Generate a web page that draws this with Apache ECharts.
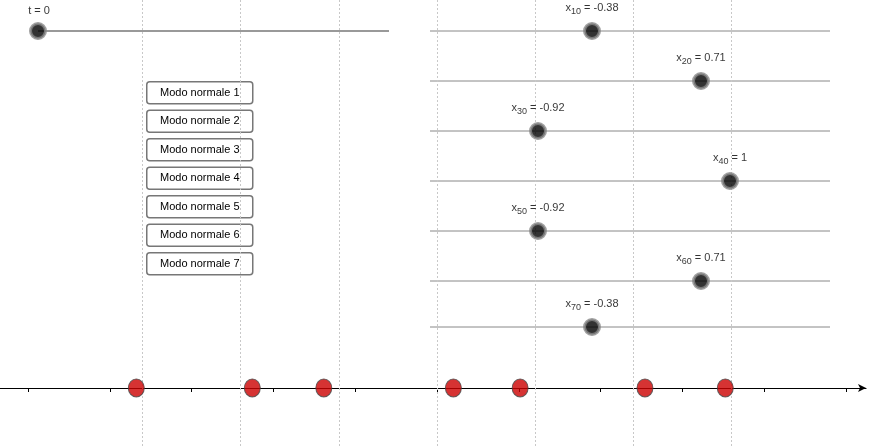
<!DOCTYPE html>
<html><head><meta charset="utf-8">
<script src="https://cdn.jsdelivr.net/npm/echarts@6/dist/echarts.min.js"></script>
<style>html,body{margin:0;padding:0;background:#fff}#c{width:871px;height:446px}</style>
</head><body><div id="c"></div>
<script>
// Data
const restPositions = [1.4, 2.6, 3.8, 5.0, 6.2, 7.4, 8.6];
const massPositions = [1.324, 2.742, 3.616, 5.2, 6.016, 7.542, 8.524];
const sliderNames = ['10','20','30','40','50','60','70'];
const sliderValues = [-0.38, 0.71, -0.92, 1, -0.92, 0.71, -0.38];
const sliderRows = [357, 307, 257, 207, 157, 107, 61];
const tickValues = [0,1,2,3,4,5,6,7,8,9,10];
const tRow = 357, tValue = 0;
const buttons = ['Modo normale 1','Modo normale 2','Modo normale 3','Modo normale 4','Modo normale 5','Modo normale 6','Modo normale 7'];

const yAx = (i)=>({gridIndex:i,type:'value',min:-58,max:388,show:false});
const series = [];
// dotted rest lines
series.push({type:'line',xAxisIndex:0,yAxisIndex:0,data:[],silent:true,
  markLine:{symbol:'none',silent:true,label:{show:false},lineStyle:{color:'#c8c8c8',type:[2,2],width:1},
    data:restPositions.map(v=>({xAxis:v}))}});
series.push({type:'scatter',xAxisIndex:0,yAxisIndex:0,data:massPositions.map(v=>[v,0]),
  symbolSize:[16,18],itemStyle:{color:'#cc0000',borderColor:'#444',borderWidth:1},z:5});
sliderRows.forEach((r,i)=>{
  series.push({type:'line',xAxisIndex:1,yAxisIndex:1,data:[[-2,r],[2,r]],symbol:'none',
    lineStyle:{color:'#888',width:1},silent:true});
  series.push({type:'scatter',xAxisIndex:1,yAxisIndex:1,data:[[sliderValues[i],r]],symbolSize:15,
    itemStyle:{color:'#000',borderColor:'#888',borderWidth:3},z:5,
    label:{show:true,position:'top',distance:6,color:'#000',fontSize:11,fontFamily:'Liberation Sans, Arial',
      formatter:()=>'x{s|'+sliderNames[i]+'} = '+sliderValues[i],
      rich:{s:{fontSize:9,verticalAlign:'bottom',padding:[8,0,0,0]}}}});
});
series.push({type:'line',xAxisIndex:2,yAxisIndex:2,data:[[0,tRow],[1,tRow]],symbol:'none',
  lineStyle:{color:'#999',width:2},silent:true});
series.push({type:'scatter',xAxisIndex:2,yAxisIndex:2,data:[[tValue,tRow]],symbolSize:15,
  itemStyle:{color:'#000',borderColor:'#888',borderWidth:3},z:5,
  label:{show:true,position:'top',distance:6,offset:[1,0],color:'#000',fontSize:11,fontFamily:'Liberation Sans, Arial',formatter:'t = '+tValue}});

const graphic = buttons.map((b,i)=>({type:'group',left:146,top:81+i*28.5,children:[
  {type:'rect',shape:{x:0,y:0,width:106,height:22,r:3},style:{fill:'#fff',stroke:'#777',lineWidth:1.5}},
  {type:'text',x:53,y:11,style:{text:b,fill:'#000',font:'11px Liberation Sans, Arial',align:'center',verticalAlign:'middle'}}]}));

echarts.init(document.getElementById('c')).setOption({
  animation:false,
  grid:[{left:0,width:866,top:0,bottom:0},{left:430,width:400,top:0,bottom:0},{left:38,width:351,top:0,bottom:0}],
  xAxis:[
    {gridIndex:0,type:'value',min:-0.3423,max:10.244,splitLine:{show:false},
      axisLine:{onZero:true,lineStyle:{color:'#000',width:1.2},symbol:['none','arrow'],symbolSize:[6,8]},
      axisTick:{show:true,inside:false,length:4,customValues:tickValues,lineStyle:{color:'#000'}},
      axisLabel:{show:false}},
    {gridIndex:1,type:'value',min:-2,max:2,show:false},
    {gridIndex:2,type:'value',min:0,max:1,show:false}],
  yAxis:[yAx(0),yAx(1),yAx(2)],
  series, graphic
});
</script></body></html>
